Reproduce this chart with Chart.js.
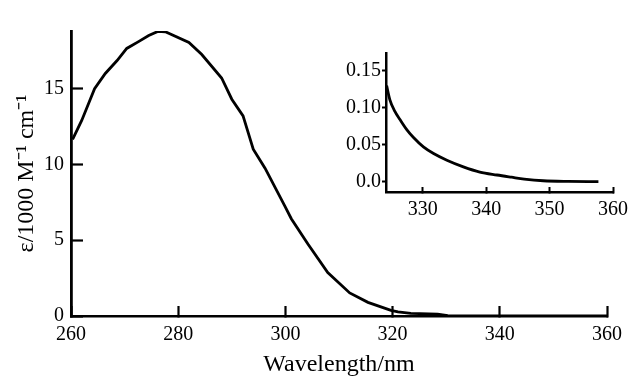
<!DOCTYPE html>
<html><head><meta charset="utf-8">
<script src="https://cdn.jsdelivr.net/npm/chart.js@4/dist/chart.umd.min.js"></script>
<style>
html,body{margin:0;padding:0;background:#fff;}
#wrap{position:relative;width:640px;height:384px;overflow:hidden;background:#fff;}
#main{position:absolute;left:0;top:0;}
#inset{position:absolute;left:330px;top:40px;}
</style></head><body>
<div id="wrap"><canvas id="main" width="640" height="384"></canvas><canvas id="inset" width="310" height="190"></canvas></div>
<script>
// Main spectrum
const wavelength = [260.3, 262.0, 264.4, 266.4, 268.6, 270.4, 272.6, 274.5, 276.2, 277.6, 282.0, 284.4, 288.1, 290.0, 292.1, 294.0, 296.2, 299.9, 301.1, 304.2, 307.9, 312.0, 315.4, 319.7, 321.0, 323.4, 328.4, 330.3, 335.0, 360.0];
const epsilon    = [11.65, 12.9, 15.0, 16.0, 16.85, 17.65, 18.1, 18.5, 18.77, 18.75, 18.05, 17.25, 15.7, 14.3, 13.2, 11.0, 9.75, 7.25, 6.42, 4.75, 2.87, 1.52, 0.9, 0.375, 0.27, 0.17, 0.12, 0.03, 0.0, 0.0];
const mainXTicks = [260, 280, 300, 320, 340, 360];
const mainYTicks = [0, 5, 10, 15];

// Inset (tail)
const insetWavelength = [324.3, 324.8, 325.6, 326.4, 327.5, 328.5, 330.1, 331.7, 333.8, 336.4, 339.0, 341.7, 344.0, 346.0, 349.0, 353.0, 357.7];
const insetEpsilon    = [0.130, 0.111, 0.095, 0.084, 0.070, 0.060, 0.047, 0.038, 0.029, 0.020, 0.013, 0.009, 0.006, 0.0035, 0.0012, 0.0003, 0.0];
const insetXTicks = [330, 340, 350, 360];
const insetYTicks = [0, 0.05, 0.10, 0.15];
const insetYTickLabels = ['0.0', '0.05', '0.10', '0.15'];

const SERIF = "'Liberation Serif', 'Times New Roman', serif";
const fixTicks = arr => (s => { s.ticks = arr.map(v => ({ value: v })); });

new Chart(document.getElementById('main'), {
  type: 'line',
  data: { datasets: [{
    data: wavelength.map((x, i) => ({ x, y: epsilon[i] })),
    borderColor: '#000', borderWidth: 2.8, pointRadius: 0, tension: 0, fill: false
  }]},
  options: {
    responsive: false, animation: false, devicePixelRatio: 1,
    layout: { padding: { left: 0, right: 33, top: 15, bottom: 0 } },
    plugins: { legend: { display: false }, tooltip: { enabled: false } },
    scales: {
      x: {
        type: 'linear', min: 260, max: 360,
        afterBuildTicks: fixTicks(mainXTicks),
        afterFit: s => { s.height = 68; },
        border: { display: true, color: '#000', width: 2.5 },
        grid: { drawOnChartArea: false, drawTicks: true, tickLength: -10, tickWidth: 2.2, tickColor: '#000' },
        ticks: { color: '#000', font: { family: SERIF, size: 20 }, padding: 17, maxRotation: 0 },
        title: { display: true, text: 'Wavelength/nm', color: '#000', font: { family: SERIF, size: 24 }, padding: { top: 0, bottom: 4.6 } }
      },
      y: {
        type: 'linear', min: 0, max: 18.8,
        afterBuildTicks: fixTicks(mainYTicks),
        afterFit: s => { s.width = 71; },
        border: { display: true, color: '#000', width: 2.8 },
        grid: { drawOnChartArea: false, drawTicks: true, tickLength: -12, tickWidth: 2.2, tickColor: '#000' },
        ticks: { color: '#000', font: { family: SERIF, size: 20 }, padding: 19 },
        title: { display: true, text: 'ε/1000 M⁻¹ cm⁻¹', color: '#000', font: { family: SERIF, size: 24 }, padding: { top: 12.6, bottom: 0 } }
      }
    }
  }
});

new Chart(document.getElementById('inset'), {
  type: 'line',
  data: { datasets: [{
    data: insetWavelength.map((x, i) => ({ x, y: insetEpsilon[i] })),
    borderColor: '#000', borderWidth: 2.8, pointRadius: 0, cubicInterpolationMode: 'monotone', fill: false
  }]},
  options: {
    responsive: false, animation: false, devicePixelRatio: 1,
    layout: { padding: { left: 0, right: 27, top: 13, bottom: 0 } },
    plugins: { legend: { display: false }, tooltip: { enabled: false } },
    scales: {
      x: {
        type: 'linear', min: 324.2, max: 360,
        afterBuildTicks: fixTicks(insetXTicks),
        afterFit: s => { s.height = 38; },
        border: { display: true, color: '#000', width: 2.5 },
        grid: { drawOnChartArea: false, drawTicks: true, tickLength: -5, tickWidth: 2, tickColor: '#000' },
        ticks: { color: '#000', font: { family: SERIF, size: 20 }, padding: 11, maxRotation: 0 }
      },
      y: {
        type: 'linear', min: -0.014, max: 0.174,
        afterBuildTicks: fixTicks(insetYTicks),
        afterFit: s => { s.width = 56; },
        border: { display: true, color: '#000', width: 2.5 },
        grid: { drawOnChartArea: false, drawTicks: true, tickLength: 4, tickWidth: 2, tickColor: '#000' },
        ticks: { color: '#000', font: { family: SERIF, size: 20 }, padding: 1,
          callback: (v, i) => insetYTickLabels[i] }
      }
    }
  }
});
</script>
</body></html>
